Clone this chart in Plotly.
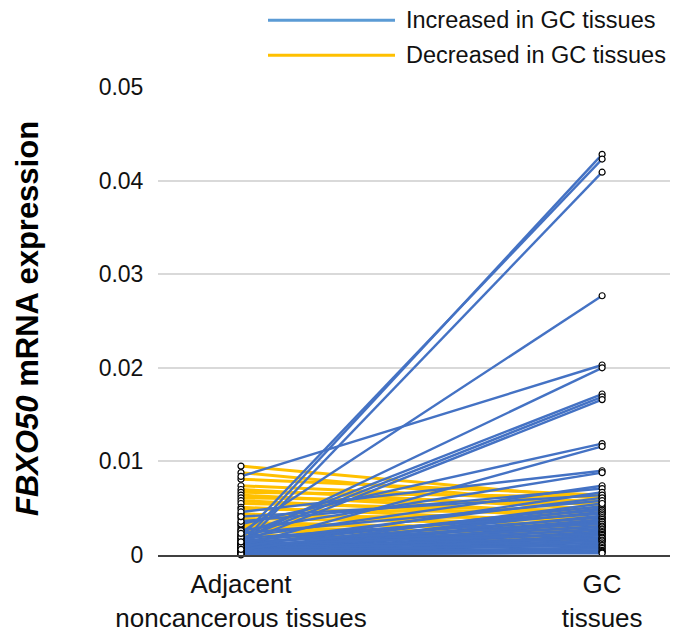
import plotly.graph_objects as go

categories = ["Adjacent<br>noncancerous tissues", "GC<br>tissues"]
y_ticks = [0, 0.01, 0.02, 0.03, 0.04, 0.05]
y_tick_labels = ["0", "0.01", "0.02", "0.03", "0.04", "0.05"]

# Increased in GC tissues (adjacent, GC) - large rises
inc_high_adj = [0.0012, 0.0019, 0.0008, 0.0024, 0.0084, 0.0016, 0.0021, 0.0017, 0.0013,
                0.0033, 0.0010, 0.0046, 0.0026, 0.0019, 0.0036, 0.0009, 0.0041, 0.0014,
                0.0023, 0.0006]
inc_high_gc = [0.0428, 0.0423, 0.0409, 0.0277, 0.0203, 0.0200, 0.0172, 0.0169, 0.0166,
               0.0119, 0.0116, 0.0090, 0.0088, 0.0074, 0.0071, 0.0067, 0.0064, 0.0061,
               0.0058, 0.0055]
# Increased in GC tissues - low values
inc_low_adj = [0.0011, 0.0004, 0.0015, 0.0007, 0.0018, 0.0003, 0.0012, 0.0005, 0.0009,
               0.0002, 0.0014, 0.0006, 0.0010, 0.0003, 0.0008, 0.0001, 0.0005, 0.0012,
               0.0002, 0.0007, 0.0004, 0.0001, 0.0006, 0.0003, 0.0002, 0.0005, 0.0001,
               0.0003, 0.0001, 0.0002, 0.0000, 0.0001]
inc_low_gc = [0.0052, 0.0050, 0.0048, 0.0046, 0.0044, 0.0042, 0.0040, 0.0038, 0.0036,
              0.0035, 0.0033, 0.0031, 0.0030, 0.0028, 0.0027, 0.0025, 0.0024, 0.0022,
              0.0021, 0.0019, 0.0018, 0.0016, 0.0015, 0.0013, 0.0011, 0.0010, 0.0008,
              0.0007, 0.0005, 0.0004, 0.0003, 0.0002]
# Decreased in GC tissues
dec_adj = [0.0095, 0.0088, 0.0081, 0.0074, 0.0070, 0.0067, 0.0064, 0.0061, 0.0058,
           0.0055, 0.0051, 0.0049, 0.0044, 0.0042, 0.0039, 0.0035, 0.0032, 0.0030,
           0.0028, 0.0026, 0.0022, 0.0020]
dec_gc = [0.0060, 0.0052, 0.0064, 0.0057, 0.0049, 0.0062, 0.0044, 0.0055, 0.0040,
          0.0047, 0.0035, 0.0045, 0.0031, 0.0039, 0.0033, 0.0026, 0.0030, 0.0022,
          0.0024, 0.0018, 0.0015, 0.0017]

BLUE = "#4472C4"
YELLOW = "#FFC000"
FONT = "Liberation Sans, Arial, sans-serif"


def seg(adj, gc):
    xs, ys = [], []
    for a, g in zip(adj, gc):
        xs += [0, 1, None]
        ys += [a, g, None]
    return xs, ys


fig = go.Figure()
for adj, gc, col, w in [(dec_adj, dec_gc, YELLOW, 3),
                        (inc_low_adj, inc_low_gc, BLUE, 2.5),
                        (inc_high_adj, inc_high_gc, BLUE, 2.4)]:
    xs, ys = seg(adj, gc)
    fig.add_trace(go.Scatter(x=xs, y=ys, mode="lines", line=dict(color=col, width=w),
                             showlegend=False, hoverinfo="skip", cliponaxis=False))

all_adj = dec_adj + inc_low_adj + inc_high_adj
all_gc = dec_gc + inc_low_gc + inc_high_gc
fig.add_trace(go.Scatter(
    x=[0] * len(all_adj) + [1] * len(all_gc), y=all_adj + all_gc, mode="markers",
    marker=dict(size=6, color="white", line=dict(color="black", width=1.2)),
    showlegend=False, cliponaxis=False))

# page body adds an 8px offset; figure coordinates = screen - 8
W, H = 670, 633
L, R, T, B = 150, 8, 79, 84
pw, ph = W - L - R, H - T - B


def px(xs):
    return (xs - 8 - L) / pw


def py(ys):
    return (H - B - (ys - 8)) / ph


# manual legend
for yp, col, txt in [(20, "#5B9BD5", "Increased in GC tissues"),
                     (55, YELLOW, "Decreased in GC tissues")]:
    fig.add_shape(type="line", xref="paper", yref="paper", x0=px(268), x1=px(395),
                  y0=py(yp), y1=py(yp), line=dict(color=col, width=3))
    fig.add_annotation(xref="paper", yref="paper", x=px(404), y=py(yp), text=txt,
                       showarrow=False, xanchor="left", yanchor="middle",
                       font=dict(size=23.5, color="#111111", family=FONT))

fig.add_annotation(xref="paper", yref="paper", x=px(27), y=py(320),
                   text="<b><i>FBXO50</i> mRNA expression</b>", textangle=-90,
                   showarrow=False, xanchor="center", yanchor="middle",
                   font=dict(size=31, color="black", family=FONT))

fig.update_layout(
    width=W, height=H, margin=dict(l=L, r=R, t=T, b=B),
    paper_bgcolor="white", plot_bgcolor="white",
    font=dict(family=FONT, color="#111111"),
    xaxis=dict(range=[-0.2298, 1.188], tickvals=[0, 1], ticktext=categories,
               showgrid=False, zeroline=False, showline=True, linecolor="#404040",
               linewidth=2, ticks="outside", ticklen=5, tickcolor="rgba(0,0,0,0)",
               tickfont=dict(size=26, family=FONT, color="#111111")),
    yaxis=dict(range=[0, 0.05], tickvals=y_ticks, ticktext=y_tick_labels,
               showgrid=True, gridcolor="#D9D9D9", gridwidth=1.5, zeroline=False,
               showline=False, ticks="outside", ticklen=9, tickcolor="rgba(0,0,0,0)",
               tickfont=dict(size=23, family=FONT, color="#111111")),
)

fig.write_html("out.html")
